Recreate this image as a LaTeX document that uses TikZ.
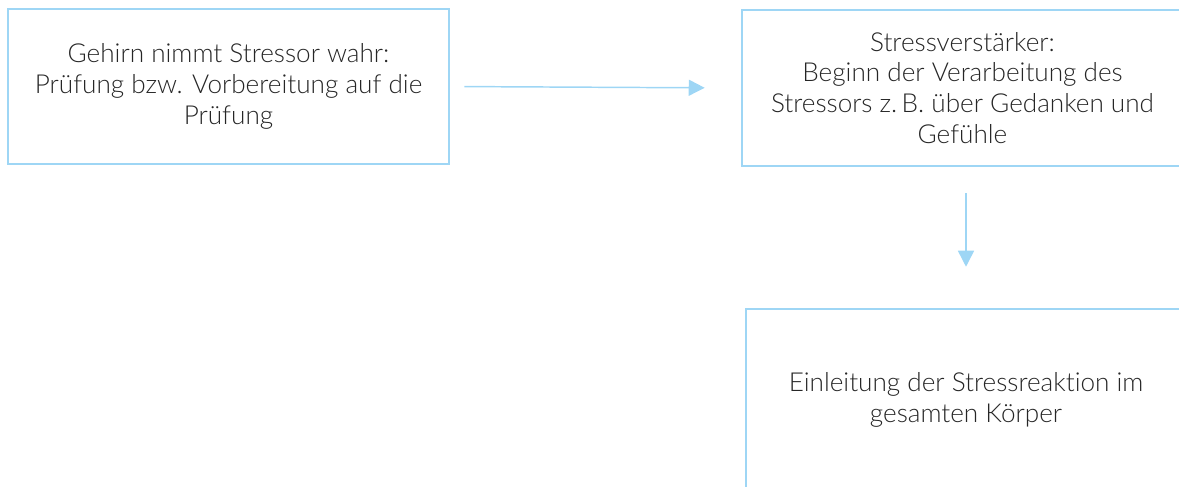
\documentclass[tikz,border=0pt]{standalone}
\usepackage{fontspec}
\setmainfont{Lato}[UprightFont=* Light, Ligatures=NoCommon]
\usetikzlibrary{arrows.meta}
\definecolor{boxblue}{RGB}{158,214,245}
\tikzset{
  stressbox/.style={draw=boxblue, line width=1.9pt, align=center, inner sep=0pt,
    font=\fontsize{19.6}{23.2}\selectfont, text=black!85},
  flow/.style={draw=boxblue, line width=1.1pt, -{Triangle[length=12pt, width=12pt]}}
}
\begin{document}
\begin{tikzpicture}[x=0.75pt, y=-0.75pt]
    \clip (0,0) rectangle (1179,486);
    \useasboundingbox (0,0) rectangle (1179,486);

    % Boxes
    \node[stressbox, minimum width=441*0.75pt, minimum height=155*0.75pt] (wahr) at (228.5,86.5)
        {Gehirn nimmt Stressor wahr:\\Prüfung bzw. Vorbereitung auf die\\Prüfung};
    \node[stressbox, minimum width=441*0.75pt, minimum height=156*0.75pt] (verst) at (962.5,88)
        {Stressverstärker:\\Beginn der Verarbeitung des\\Stressors z.\,B. über Gedanken und\\Gefühle};
    \node[stressbox, minimum width=440*0.75pt, minimum height=182*0.75pt] (reakt) at (966,400)
        {Einleitung der Stressreaktion im\\gesamten Körper};

    % Arrows
    \draw[flow, shorten <=14*0.75pt, shorten >=36*0.75pt] (wahr.east) -- (verst.west);
    \draw[flow, shorten <=26*0.75pt, shorten >=41*0.75pt] (verst.south -| reakt.north) -- (reakt.north);
\end{tikzpicture}
\end{document}
